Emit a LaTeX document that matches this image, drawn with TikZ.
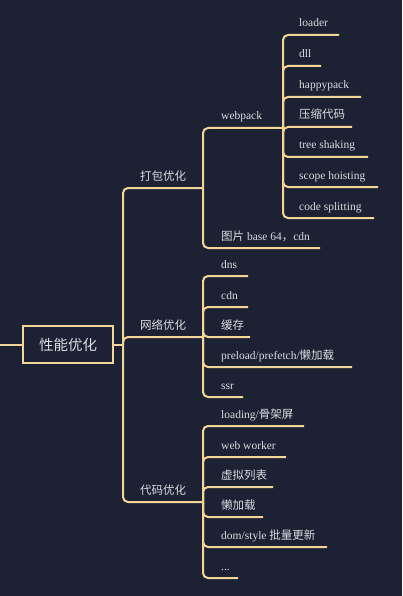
\documentclass[tikz,border=0pt]{standalone}
\usepackage{fontspec}
\setmainfont{Liberation Serif}
\newfontfamily\cjk{Noto Sans CJK SC}
\definecolor{bg}{HTML}{1C2133}
\definecolor{gold}{HTML}{F3D597}
\definecolor{txt}{HTML}{DCDCE2}
\begin{document}
\begin{tikzpicture}[x=1pt,y=-1pt,
  edge/.style={draw=gold, line width=2pt, rounded corners=5pt},
  lbl/.style={anchor=base west, inner sep=0pt, text=txt, font=\fontsize{11.5}{13}\selectfont},
  midlbl/.style={anchor=base, inner sep=0pt, text=txt, font=\fontsize{11.5}{13}\selectfont\cjk},
  rootbox/.style={draw=gold, fill=bg, line width=1.8pt, minimum width=90pt, minimum height=37pt, inner sep=0pt, text=txt, font=\fontsize{14.5}{16}\selectfont\cjk}
]
\fill[bg] (0,0) rectangle (402,596);
\useasboundingbox (0,0) rectangle (402,596);

% root
\node[rootbox] (root) at (68,344.5) {性能优化};
\coordinate (in) at (0,344.5);
\coordinate (j0) at (123,344.5);
\draw[edge] (in) -- (root.west);
\draw[edge] (root.east) -- (j0);

% level 1 junctions
\coordinate (j1) at (203,188);
\coordinate (j2) at (203,337);
\coordinate (j3) at (203,502);
\coordinate (j4) at (283,128);

\draw[edge] (j0) |- (j1);
\draw[edge] (j0) |- (j2);
\draw[edge] (j0) |- (j3);
\node[midlbl] (a) at (163,180) {打包优化};
\node[midlbl] (b) at (163,329) {网络优化};
\node[midlbl] (c) at (163,494) {代码优化};

% 打包优化 children
\draw[edge] (j1) |- (j4);
\node[lbl] (wp) at (221,120) {webpack};
\coordinate (e-img) at (320,248);
\draw[edge] (j1) |- (e-img);
\node[lbl] (img) at (221,240) {{\cjk 图片} base 64{\cjk ，}cdn};

% webpack children
\coordinate (e-loader) at (339,35);
\coordinate (e-dll) at (321,66);
\coordinate (e-happy) at (361,97);
\coordinate (e-ys) at (352,127);
\coordinate (e-tree) at (368,157);
\coordinate (e-scope) at (378,187);
\coordinate (e-code) at (374,218);
\foreach \e in {e-loader,e-dll,e-happy,e-ys,e-tree,e-scope,e-code}
  \draw[edge] (j4) |- (\e);
\node[lbl] (loader) at (299,27) {loader};
\node[lbl] (dll) at (299,58) {dll};
\node[lbl] (happy) at (299,89) {happypack};
\node[lbl] (ys) at (299,119) {\cjk 压缩代码};
\node[lbl] (tree) at (299,149) {tree shaking};
\node[lbl] (scope) at (299,179) {scope hoisting};
\node[lbl] (code) at (299,210) {code splitting};

% 网络优化 children
\coordinate (e-dns) at (248,276);
\coordinate (e-cdn) at (248,307);
\coordinate (e-hc) at (250,337);
\coordinate (e-pre) at (352,367);
\coordinate (e-ssr) at (243,397);
\foreach \e in {e-dns,e-cdn,e-hc,e-pre,e-ssr}
  \draw[edge] (j2) |- (\e);
\node[lbl] (dns) at (221,268) {dns};
\node[lbl] (cdn) at (221,299) {cdn};
\node[lbl] (hc) at (221,329) {\cjk 缓存};
\node[lbl] (pre) at (221,359) {preload/prefetch/{\cjk 懒加载}};
\node[lbl] (ssr) at (221,389) {ssr};

% 代码优化 children
\coordinate (e-load) at (304,426);
\coordinate (e-ww) at (286,457);
\coordinate (e-xn) at (273,487);
\coordinate (e-lj) at (263,517);
\coordinate (e-dom) at (327,547);
\coordinate (e-dot) at (238,578);
\foreach \e in {e-load,e-ww,e-xn,e-lj,e-dom,e-dot}
  \draw[edge] (j3) |- (\e);
\node[lbl] (load) at (221,418) {loading/{\cjk 骨架屏}};
\node[lbl] (ww) at (221,449) {web worker};
\node[lbl] (xn) at (221,479) {\cjk 虚拟列表};
\node[lbl] (lj) at (221,509) {\cjk 懒加载};
\node[lbl] (dom) at (221,539) {dom/style {\cjk 批量更新}};
\node[lbl] (dot) at (221,570) {...};
\end{tikzpicture}
\end{document}
